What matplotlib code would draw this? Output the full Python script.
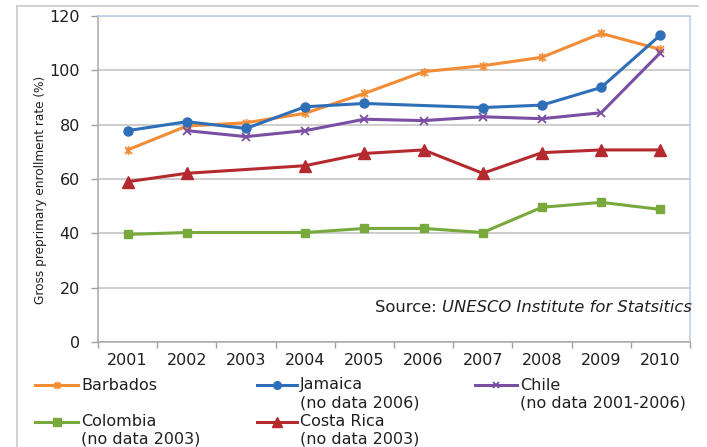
import matplotlib
matplotlib.use("Agg")
import matplotlib.pyplot as plt
import numpy as np
from matplotlib.path import Path
from matplotlib.lines import Line2D

# ---- data ----
years = ["2001", "2002", "2003", "2004", "2005", "2006", "2007", "2008", "2009", "2010"]
barbados = [70.7, 79.5, 80.7, 84.2, 91.5, 99.5, 101.7, 104.8, 113.6, 107.7]
jamaica = [77.8, 81.1, 78.6, 86.6, 87.8, None, 86.3, 87.2, 93.7, 113.0]
chile = [None, 77.8, 75.6, 77.8, 82.0, 81.5, 82.9, 82.2, 84.4, 106.5]
colombia = [39.6, 40.3, None, 40.3, 41.8, 41.8, 40.3, 49.6, 51.4, 48.8]
costa_rica = [59.0, 62.1, None, 64.9, 69.4, 70.7, 62.1, 69.7, 70.7, 70.7]

series_names = ["Barbados", "Jamaica", "Chile", "Colombia", "Costa Rica"]
series_notes = ["", "(no data 2006)", "(no data 2001-2006)", "(no data 2003)", "(no data 2003)"]
y_ticks = [0, 20, 40, 60, 80, 100, 120]
y_label = "Gross preprimary enrollment rate (%)"
source_prefix = "Source: "
source_name = "UNESCO Institute for Statsitics"

# asterisk marker (x plus vertical bar)
asterisk = Path([(-1, -1), (1, 1), (-1, 1), (1, -1), (0, -1.3), (0, 1.3)],
                [Path.MOVETO, Path.LINETO, Path.MOVETO, Path.LINETO, Path.MOVETO, Path.LINETO])

styles = {
    "Barbados": dict(color="#F28C35", marker=asterisk, ms=6.5, mew=1.3),
    "Jamaica": dict(color="#2E6FB7", marker="o", ms=6.5, mew=1.0),
    "Chile": dict(color="#7A4EA3", marker="x", ms=5.5, mew=1.3),
    "Colombia": dict(color="#77A93C", marker="s", ms=6.0, mew=1.0),
    "Costa Rica": dict(color="#B42A2E", marker="^", ms=8.5, mew=1.0),
}
values = {"Barbados": barbados, "Jamaica": jamaica, "Chile": chile,
          "Colombia": colombia, "Costa Rica": costa_rica}

FS = 11.5
TXT = "#202020"

W, H = 707, 447
fig = plt.figure(figsize=(W / 100, H / 100), dpi=100)
fig.patch.set_facecolor("white")


def fx(px):
    return px / W


def fy(py):
    return 1 - py / H


# outer chart frame (left and top edges)
fig.add_artist(Line2D([fx(17), fx(17)], [fy(6), fy(H + 2)], color="#C8C8C8", lw=1.2))
fig.add_artist(Line2D([fx(17), fx(698)], [fy(6), fy(6)], color="#C8C8C8", lw=1.2))

ax = fig.add_axes([fx(98), fy(342), fx(690) - fx(98), fy(16) - fy(342)])
x = np.arange(len(years))

order = ["Barbados", "Jamaica", "Chile", "Costa Rica", "Colombia"]
for name in order:
    vals = values[name]
    xs = [xi for xi, v in zip(x, vals) if v is not None]
    vs = [v for v in vals if v is not None]
    st = styles[name]
    ax.plot(xs, vs, color=st["color"], lw=2.2, marker=st["marker"], ms=st["ms"],
            mew=st["mew"], mec=st["color"], mfc=st["color"], zorder=3,
            solid_joinstyle="round")

ax.set_xlim(-0.5, len(years) - 0.5)
ax.set_ylim(0, 120)
ax.set_yticks(y_ticks)
ax.set_yticklabels([str(t) for t in y_ticks], fontsize=FS, family="DejaVu Sans", color=TXT)
ax.set_xticks(x)
ax.set_xticklabels(years, fontsize=FS, family="DejaVu Sans", color=TXT)
ax.set_xticks(np.arange(-0.5, len(years)), minor=True)
ax.tick_params(axis="x", which="major", length=0, pad=8)
ax.tick_params(axis="x", which="minor", length=4, color="#A0A0A0", width=1)
ax.tick_params(axis="y", length=5, color="#A0A0A0", width=1, pad=8)

ax.yaxis.grid(True, color="#C0C0C0", lw=1.1)
ax.set_axisbelow(True)
for side in ("left", "bottom"):
    ax.spines[side].set_color("#A8A8A8")
    ax.spines[side].set_linewidth(1.1)
for side in ("top", "right"):
    ax.spines[side].set_color("#BCCDE6")
    ax.spines[side].set_linewidth(1.1)

fig.text(fx(41), fy(189.5), y_label, rotation=90, ha="center", va="center",
         fontsize=8.7, family=["Liberation Sans Narrow", "DejaVu Sans"], color=TXT)

# source note inside the plot
t1 = fig.text(fx(375), fy(308), source_prefix, ha="left", va="center",
              fontsize=11.8, family="DejaVu Sans", color=TXT)
fig.canvas.draw()
ax.annotate(source_name, xy=(1, 0), xycoords=t1, ha="left", va="bottom",
            fontsize=11.8, family="DejaVu Sans", style="italic", color=TXT)

# legend drawn below the axes
legend_pos = {
    "Barbados": (35, 81, 385),
    "Jamaica": (257, 300, 385),
    "Chile": (475, 520, 385),
    "Colombia": (35, 81, 421.5),
    "Costa Rica": (257, 300, 421.5),
}
for name, note in zip(series_names, series_notes):
    x0, tx, yy = legend_pos[name]
    st = styles[name]
    fig.add_artist(Line2D([fx(x0), fx(tx - 3)], [fy(yy), fy(yy)], color=st["color"], lw=2.2))
    fig.add_artist(Line2D([fx((x0 + tx - 3) / 2)], [fy(yy)], color=st["color"],
                          marker=st["marker"], ms=st["ms"] * 0.85, mew=st["mew"],
                          mec=st["color"], mfc=st["color"], lw=0))
    fig.text(fx(tx), fy(yy), name, ha="left", va="center", fontsize=FS,
             family="DejaVu Sans", color=TXT)
    if note:
        fig.text(fx(tx), fy(yy + 18), note, ha="left", va="center", fontsize=FS,
                 family="DejaVu Sans", color=TXT)

fig.savefig("out.png", dpi=100, facecolor="white")
